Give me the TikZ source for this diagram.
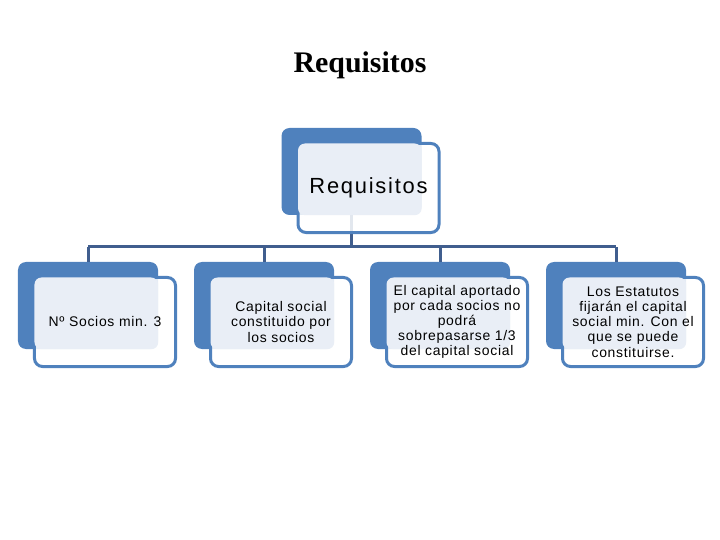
\documentclass[tikz,border=0pt]{standalone}
\usepackage{fontspec}
\setmainfont{Liberation Sans}
\newfontfamily\titlefont{Liberation Serif}
\usepackage{xcolor}
\definecolor{boxblue}{RGB}{79,129,189}
\definecolor{boxlight}{RGB}{233,238,246}
\definecolor{linkblue}{RGB}{64,94,142}

\begin{document}
\begin{tikzpicture}[x=1bp,y=-1bp,
    backbox/.style={fill=boxblue,rounded corners=8bp,minimum width=140bp,minimum height=87bp,inner sep=0pt},
    frontbox/.style={draw=boxblue,line width=3bp,fill=white,fill opacity=0.85,rounded corners=8bp,minimum width=141bp,minimum height=89bp,inner sep=0pt},
    boxtext/.style={align=center,font=\fontsize{14}{15.2}\selectfont\addfontfeature{LetterSpace=5}},
    link/.style={draw=linkblue,line width=3bp}]
        \useasboundingbox (0,0) rectangle (720,540);

        \node[font=\titlefont\bfseries\fontsize{30}{30}\selectfont] (title) at (360,65) {Requisitos};

        \coordinate (busL) at (88,247);
        \coordinate (busR) at (616,247);

        \node[backbox] (back0) at (351.5,171.5) {};
        \foreach \i in {1,...,4} {
            \pgfmathsetmacro{\bx}{88+176*(\i-1)}
            \node[backbox] (back\i) at (\bx,305.5) {};
            \draw[link] (back\i.north) -- (back\i.north |- busL);
        }
        \draw[link] (busL) -- (busR);
        \draw[link] (back0.south) -- (back0.south |- busL);

        \node[frontbox] (front0) at (368.5,188) {};
        \fill[boxlight,rounded corners=7bp] ([shift={(1.5,1.5)}]front0.north west) rectangle (back0.south east);
        \node[align=center,font=\fontsize{22}{24}\selectfont\addfontfeature{LetterSpace=8}] (text0) at (front0.center) {Requisitos};

        \foreach \i/\txt in {1/{Nº Socios min. 3},
                             2/{Capital  social\\constituido por\\los socios},
                             3/{El capital aportado\\por cada socios no\\podrá\\sobrepasarse 1/3\\del capital social},
                             4/{Los Estatutos\\fijarán el capital\\social min. Con el\\que se puede\\constituirse.}} {
            \pgfmathsetmacro{\fx}{105+176*(\i-1)}
            \node[frontbox] (front\i) at (\fx,322) {};
            \fill[boxlight,rounded corners=7bp] ([shift={(1.5,1.5)}]front\i.north west) rectangle (back\i.south east);
            \node[boxtext] (text\i) at (front\i.center) {\txt};
        }
    \end{tikzpicture}
\end{document}
